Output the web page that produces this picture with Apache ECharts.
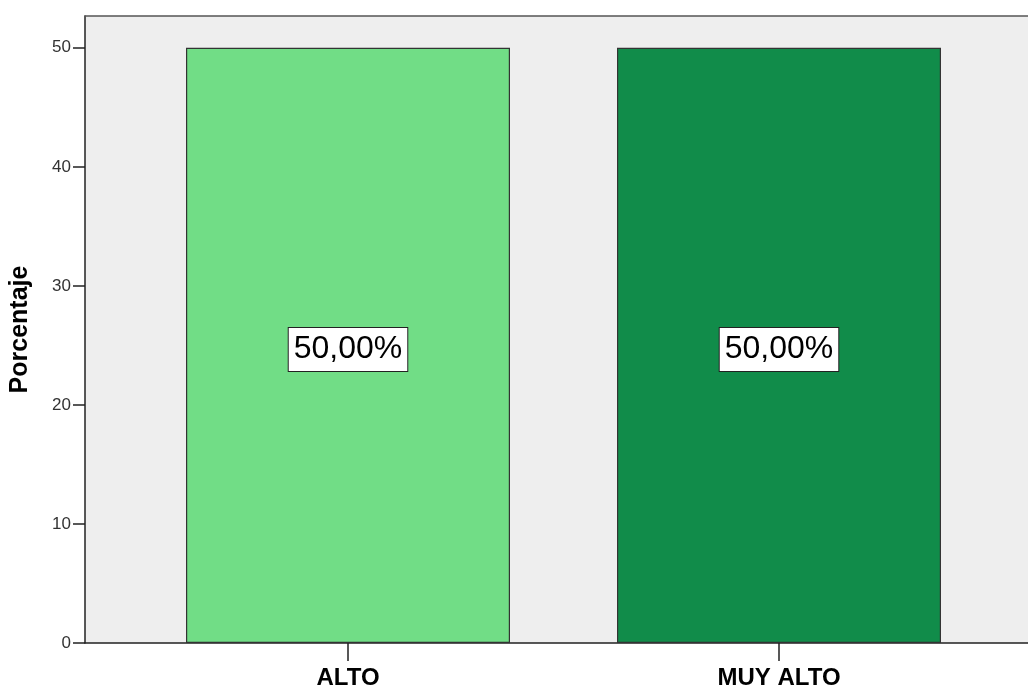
<!DOCTYPE html>
<html>
<head>
<meta charset="utf-8">
<style>
  html, body { margin: 0; padding: 0; background: #fff; }
  #grafico { width: 1028px; height: 690px; }
</style>
<script src="https://cdn.jsdelivr.net/npm/echarts@6/dist/echarts.min.js"></script>
</head>
<body>
<div id="grafico"></div>
<script>
// datos del grafico
var categorias = ['ALTO', 'MUY ALTO']
var porcentajes = [50, 50]
var colores = ['#71dd86', '#118c4a']
var ticksY = [0, 10, 20, 30, 40, 50]
var ejeYMax = 52.67
var fuente = "Arial, 'Liberation Sans', sans-serif"

var myChart = echarts.init(document.getElementById('grafico'))

var option = {
  animation: false,
  grid: [
    // fondo gris del area de trazado, sin borde derecho
    {left: 84, right: 0, top: 16, bottom: 47, show: true,
      backgroundColor: '#eeeeee', borderWidth: 0},
    // area de las barras
    {left: 132.5, width: 862, top: 16, bottom: 47, show: false}
  ],
  xAxis: [
    {
      gridIndex: 0, type: 'value', min: 0, max: 1,
      axisLine: {show: true, onZero: false, lineStyle: {color: '#222', width: 1.5}},
      axisTick: {show: false}, axisLabel: {show: false}, splitLine: {show: false}
    },
    {
      gridIndex: 1, type: 'category', data: categorias,
      axisLine: {show: false},
      axisTick: {show: true, alignWithLabel: true, length: 18, lineStyle: {color: '#222', width: 1.5}},
      axisLabel: {fontSize: 24, fontWeight: 'bold', color: '#000', fontFamily: fuente, margin: 23}
    },
    {
      // linea superior del marco
      gridIndex: 0, type: 'value', position: 'top', min: 0, max: 1,
      axisLine: {show: true, onZero: false, lineStyle: {color: '#555', width: 1.5}},
      axisTick: {show: false}, axisLabel: {show: false}, splitLine: {show: false}
    }
  ],
  yAxis: [
    {
      gridIndex: 0, type: 'value', min: 0, max: ejeYMax,
      axisLine: {show: true, lineStyle: {color: '#222', width: 1.5}},
      axisTick: {show: true, length: 12, customValues: ticksY, lineStyle: {color: '#222', width: 1.5}},
      axisLabel: {fontSize: 17, color: '#333', fontFamily: fuente, margin: 14, customValues: ticksY},
      splitLine: {show: false},
      name: 'Porcentaje', nameLocation: 'middle', nameRotate: 90, nameGap: 52,
      nameTextStyle: {fontSize: 25, fontWeight: 'bold', color: '#000', fontFamily: fuente}
    },
    {
      gridIndex: 1, type: 'value', min: 0, max: ejeYMax, show: false
    }
  ],
  series: [{
    type: 'bar',
    xAxisIndex: 1,
    yAxisIndex: 1,
    barWidth: 324,
    data: porcentajes.map(function (v, i) {
      return {value: v, itemStyle: {color: colores[i]}}
    }),
    itemStyle: {borderColor: '#333', borderWidth: 1.2},
    label: {
      show: true,
      position: 'inside',
      offset: [0, 4],
      formatter: function (p) { return p.value.toFixed(2).replace('.', ',') + '%' },
      fontSize: 32,
      color: '#000',
      fontFamily: fuente,
      backgroundColor: '#fff',
      borderColor: '#222',
      borderWidth: 1,
      padding: [6, 5, 5, 5]
    }
  }]
}

myChart.setOption(option)
</script>
</body>
</html>
